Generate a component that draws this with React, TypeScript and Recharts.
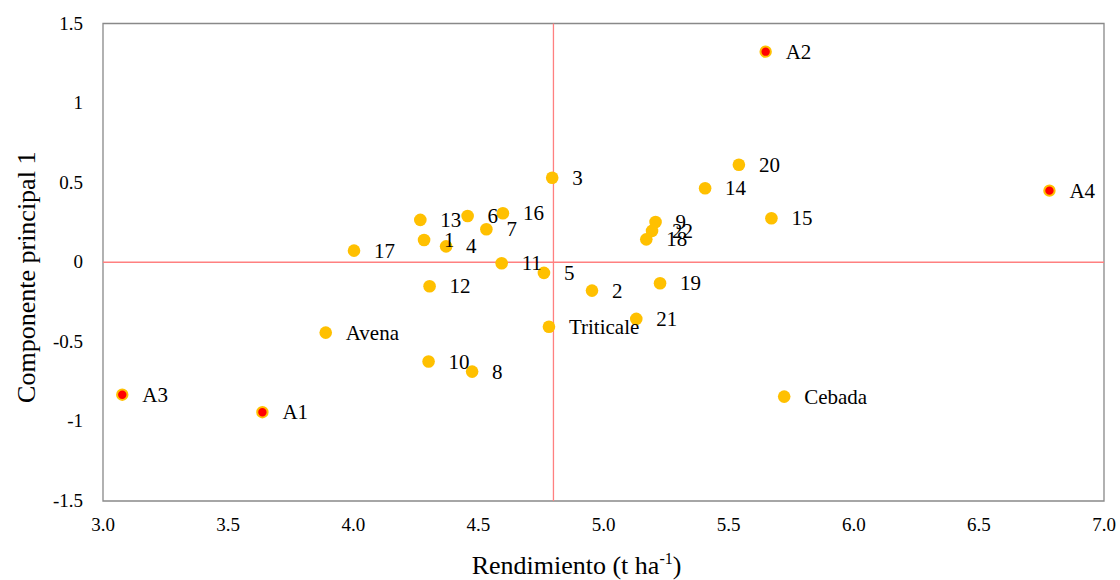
import React from "react";
import {
  ScatterChart,
  Scatter,
  XAxis,
  YAxis,
  ReferenceLine,
  ReferenceArea,
  Label,
} from "recharts";

// genotipos y testigos
const genotypeNames = [
  "1", "2", "3", "4", "5", "6", "7", "8", "9", "10", "11",
  "12", "13", "14", "15", "16", "17", "18", "19", "20", "21", "22",
  "Avena", "Cebada", "Triticale",
];
const genotypeYield = [
  4.283, 4.954, 4.795, 4.371, 4.762, 4.457, 4.532, 4.475, 5.208, 4.301, 4.593,
  4.305, 4.268, 5.406, 5.671, 4.598, 4.003, 5.171, 5.226, 5.541, 5.131, 5.194,
  3.89, 5.722, 4.782,
];
const genotypePC1 = [
  0.14, -0.178, 0.531, 0.1, -0.067, 0.291, 0.207, -0.687, 0.253, -0.624, -0.006,
  -0.151, 0.266, 0.465, 0.276, 0.308, 0.073, 0.144, -0.132, 0.613, -0.356, 0.197,
  -0.442, -0.844, -0.405,
];

// ambientes
const envNames = ["A1", "A2", "A3", "A4"];
const envYield = [3.637, 5.648, 3.077, 6.782];
const envPC1 = [-0.942, 1.323, -0.832, 0.45];

const meanYield = 4.8;

const xTicks = [3.0, 3.5, 4.0, 4.5, 5.0, 5.5, 6.0, 6.5, 7.0];
const yTicks = [-1.5, -1, -0.5, 0, 0.5, 1, 1.5];

const genotypes = genotypeNames.map((name, i) => ({
  name,
  x: genotypeYield[i],
  y: genotypePC1[i],
}));
const environments = envNames.map((name, i) => ({
  name,
  x: envYield[i],
  y: envPC1[i],
}));
const allPoints = [...genotypes, ...environments];

const FONT = "Liberation Serif";
const ORANGE = "#FFC000";
const REFLINE = "#FF8080";

const GenotypeDot = (props: any) => (
  <circle cx={props.cx} cy={props.cy} r={6.3} fill={ORANGE} />
);

const EnvDot = (props: any) => (
  <circle
    cx={props.cx}
    cy={props.cy}
    r={5.2}
    fill="#FF0000"
    stroke={ORANGE}
    strokeWidth={2}
  />
);

const PointLabel = (props: any) => (
  <text
    x={props.cx + 20}
    y={props.cy + 7}
    fontFamily={FONT}
    fontSize={21}
    fill="#000"
  >
    {props.payload.name}
  </text>
);

const AxisTick = (props: any) => {
  const { x, y, payload, textAnchor, isX } = props;
  const label = isX ? payload.value.toFixed(1) : String(payload.value);
  return (
    <text
      x={x}
      y={isX ? y + 13 : y + 6}
      textAnchor={textAnchor}
      fontFamily={FONT}
      fontSize={19}
      fill="#000"
    >
      {label}
    </text>
  );
};

const XTitle = (props: any) => {
  const vb = props.viewBox;
  return (
    <text
      x={vb.x + vb.width / 2 - 27}
      y={vb.y + 73}
      textAnchor="middle"
      fontFamily={FONT}
      fontSize={26}
      fill="#000"
    >
      Rendimiento (t ha
      <tspan dy={-10} fontSize={16}>
        -1
      </tspan>
      <tspan dy={10}>)</tspan>
    </text>
  );
};

const YTitle = (props: any) => {
  const vb = props.viewBox;
  const cx = 27;
  const cy = vb.y + vb.height / 2 + 15;
  return (
    <text
      x={cx}
      y={cy}
      textAnchor="middle"
      fontFamily={FONT}
      fontSize={26}
      fill="#000"
      transform={`rotate(-90, ${cx}, ${cy})`}
    >
      Componente principal 1
    </text>
  );
};

export default function App() {
  return (
    <div
      style={{
        position: "absolute",
        left: 8,
        top: 8,
        width: 1112,
        height: 572,
        fontFamily: FONT,
      }}
    >
      <ScatterChart
        width={1112}
        height={572}
        margin={{ top: 15.5, right: 16, bottom: 0, left: 0 }}
        style={{ fontFamily: FONT, overflow: "visible" }}
      >
        <XAxis
          type="number"
          dataKey="x"
          domain={[3, 7]}
          ticks={xTicks}
          axisLine={false}
          tickLine={false}
          tickMargin={11}
          height={79}
          tick={(p: any) => <AxisTick {...p} isX />}
          interval={0}
        >
          <Label content={XTitle} />
        </XAxis>
        <YAxis
          type="number"
          dataKey="y"
          domain={[-1.5, 1.5]}
          ticks={yTicks}
          axisLine={false}
          tickLine={false}
          tickMargin={14}
          width={95}
          tick={(p: any) => <AxisTick {...p} />}
          interval={0}
        >
          <Label content={YTitle} />
        </YAxis>
        <ReferenceArea
          x1={3}
          x2={7}
          y1={-1.5}
          y2={1.5}
          fill="none"
          stroke="#898989"
          strokeWidth={1.3}
        />
        <ReferenceLine y={0} stroke={REFLINE} strokeWidth={1.3} />
        <ReferenceLine x={meanYield} stroke={REFLINE} strokeWidth={1.3} />
        <Scatter
          data={genotypes}
          shape={GenotypeDot}
          isAnimationActive={false}
          legendType="none"
        />
        <Scatter
          data={environments}
          shape={EnvDot}
          isAnimationActive={false}
          legendType="none"
        />
        <Scatter
          data={allPoints}
          shape={PointLabel}
          isAnimationActive={false}
          legendType="none"
        />
      </ScatterChart>
    </div>
  );
}
